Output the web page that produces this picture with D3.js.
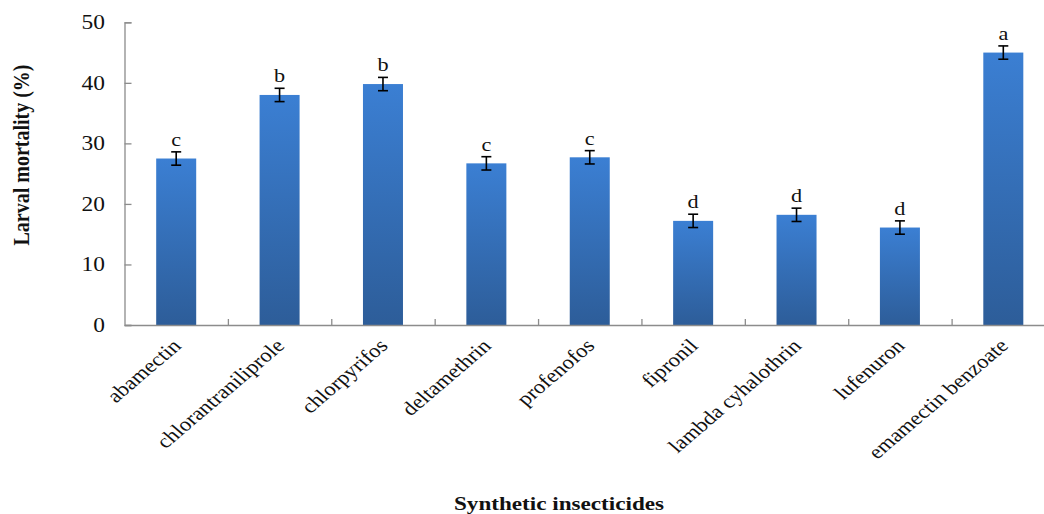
<!DOCTYPE html>
<html>
<head>
<meta charset="utf-8">
<script src="https://cdn.jsdelivr.net/npm/d3@7"></script>
<style>
  html, body { margin: 0; padding: 0; background: #fff; }
  svg { display: block; font-family: "Liberation Serif", "Times New Roman", serif; }
</style>
</head>
<body>
<svg id="chart" width="1044" height="514"></svg>
<script>
// Larval mortality by insecticide, mean ± error, with significance letters
const insecticides = ["abamectin", "chlorantraniliprole", "chlorpyrifos", "deltamethrin",
  "profenofos", "fipronil", "lambda cyhalothrin", "lufenuron", "emamectin benzoate"];
const mortality = [27.5, 38.0, 39.8, 26.7, 27.7, 17.2, 18.2, 16.1, 45.0];
const errors = [1.1, 1.1, 1.1, 1.1, 1.1, 1.1, 1.1, 1.1, 1.1];
const groups = ["c", "b", "b", "c", "c", "d", "d", "d", "a"];
const yTicks = [0, 10, 20, 30, 40, 50];

// text in this figure is slightly wide-set
const stretch = 1.17;

const svg = d3.select("#chart");
const plot = { left: 124.5, right: 1055, top: 22.3, bottom: 325 };

const x = d3.scaleBand()
  .domain(insecticides)
  .range([plot.left, plot.right])
  .paddingInner(0.613)
  .paddingOuter(0.3065);

const y = d3.scaleLinear().domain([0, 50]).range([plot.bottom, plot.top]);

// vertical gradient for the bars
const defs = svg.append("defs");
const grad = defs.append("linearGradient")
  .attr("id", "barFill").attr("x1", 0).attr("y1", 0).attr("x2", 0).attr("y2", 1);
grad.append("stop").attr("offset", "0%").attr("stop-color", "#3b7fd3");
grad.append("stop").attr("offset", "100%").attr("stop-color", "#2d5d99");

// bars
svg.append("g").selectAll("rect")
  .data(insecticides)
  .join("rect")
  .attr("x", d => x(d))
  .attr("y", (d, i) => y(mortality[i]))
  .attr("width", x.bandwidth())
  .attr("height", (d, i) => y(0) - y(mortality[i]))
  .attr("fill", "url(#barFill)");

// y axis (ticks pointing into the plot)
const yAxis = svg.append("g")
  .attr("transform", `translate(${plot.left},0)`)
  .call(d3.axisRight(y).tickValues(yTicks).tickSize(7).tickFormat(""));
yAxis.selectAll("path, line").attr("stroke", "#8c8c8c").attr("stroke-width", 1.3);

svg.append("g").selectAll("text")
  .data(yTicks)
  .join("text")
  .attr("transform", d => `translate(105,${y(d)}) scale(${stretch},1)`)
  .attr("dy", "0.34em")
  .attr("text-anchor", "end")
  .attr("font-size", 20)
  .attr("fill", "#111")
  .text(d => d);

// x axis with category separators pointing up
const sepScale = d3.scaleLinear().domain([0, insecticides.length]).range([plot.left, plot.right]);
const xAxis = svg.append("g")
  .attr("transform", `translate(0,${plot.bottom})`)
  .call(d3.axisTop(sepScale).tickValues(d3.range(1, insecticides.length)).tickSize(6).tickFormat("").tickSizeOuter(0));
xAxis.selectAll("path, line").attr("stroke", "#8c8c8c").attr("stroke-width", 1.3);

// rotated category labels
svg.append("g").selectAll("text")
  .data(insecticides)
  .join("text")
  .attr("transform", d => `translate(${x(d) + x.bandwidth() / 2 + 6},${plot.bottom + 22}) scale(${stretch},1) rotate(-45)`)
  .attr("text-anchor", "end")
  .attr("font-size", 19.5)
  .attr("fill", "#111")
  .text(d => d);

// error bars
const eb = svg.append("g").attr("stroke", "#000").attr("stroke-width", 1.6).attr("fill", "none");
insecticides.forEach((d, i) => {
  const cx = x(d) + x.bandwidth() / 2;
  const hi = y(mortality[i] + errors[i]);
  const lo = y(mortality[i] - errors[i]);
  eb.append("line").attr("x1", cx).attr("x2", cx).attr("y1", hi).attr("y2", lo);
  eb.append("line").attr("x1", cx - 5).attr("x2", cx + 5).attr("y1", hi).attr("y2", hi);
  eb.append("line").attr("x1", cx - 5).attr("x2", cx + 5).attr("y1", lo).attr("y2", lo);
});

// significance letters
svg.append("g").selectAll("text")
  .data(insecticides)
  .join("text")
  .attr("transform", (d, i) => `translate(${x(d) + x.bandwidth() / 2},${y(mortality[i] + errors[i]) - 6}) scale(${stretch},1)`)
  .attr("text-anchor", "middle")
  .attr("font-size", 19)
  .attr("fill", "#111")
  .text((d, i) => groups[i]);

// axis titles
svg.append("text")
  .attr("transform", `translate(29,155) scale(${stretch},1) rotate(-90)`)
  .attr("text-anchor", "middle")
  .attr("font-size", 20)
  .attr("font-weight", "bold")
  .attr("fill", "#111")
  .text("Larval mortality (%)");

svg.append("text")
  .attr("transform", "translate(559,510) scale(1.25,1)")
  .attr("text-anchor", "middle")
  .attr("font-size", 18.5)
  .attr("font-weight", "bold")
  .attr("fill", "#111")
  .text("Synthetic insecticides");
</script>
</body>
</html>
